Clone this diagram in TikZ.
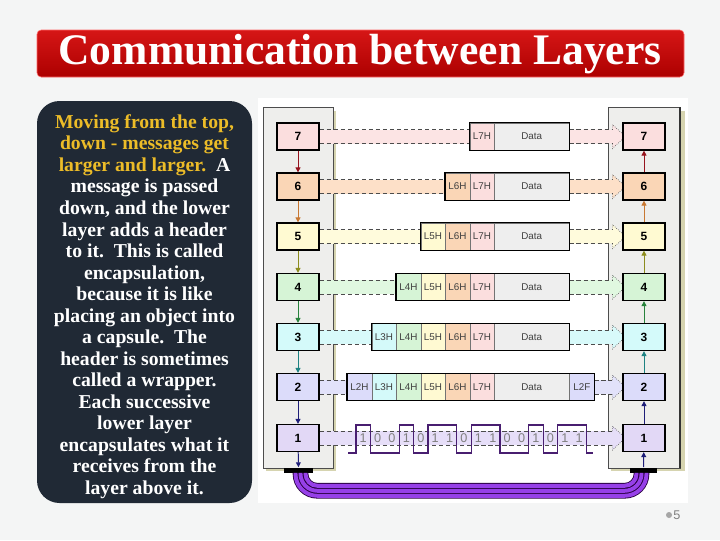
\documentclass[tikz,border=0pt]{standalone}
\usepackage{fontspec}
\setmainfont{Liberation Serif}
\setsansfont{Liberation Sans}
\usepackage{xcolor}
\usetikzlibrary{calc, arrows.meta, positioning}
\pgfdeclarelayer{background}
\pgfsetlayers{background,main}

\definecolor{slidebg}{RGB}{244, 245, 245}
\definecolor{bannertop}{RGB}{214, 22, 22}
\definecolor{bannerbot}{RGB}{172, 0, 0}
\definecolor{textbg}{RGB}{32, 41, 53}
\definecolor{gold}{RGB}{236, 188, 40}
\definecolor{panelgray}{RGB}{238, 238, 236}
\definecolor{panelshadow}{RGB}{214, 212, 176}
\definecolor{datagray}{RGB}{238, 238, 238}
% layer fills
\definecolor{lay7}{RGB}{251, 222, 222}
\definecolor{lay6}{RGB}{250, 214, 182}
\definecolor{lay5}{RGB}{255, 250, 210}
\definecolor{lay4}{RGB}{214, 244, 214}
\definecolor{lay3}{RGB}{212, 250, 250}
\definecolor{lay2}{RGB}{220, 220, 250}
\definecolor{lay1}{RGB}{226, 216, 246}
% band fills
\definecolor{band7}{RGB}{252, 228, 228}
\definecolor{band6}{RGB}{253, 224, 200}
\definecolor{band5}{RGB}{255, 251, 220}
\definecolor{band4}{RGB}{224, 248, 224}
\definecolor{band3}{RGB}{216, 250, 250}
\definecolor{band2}{RGB}{226, 226, 250}
\definecolor{band1}{RGB}{230, 222, 248}
% arrow colours
\definecolor{arr7}{RGB}{150, 20, 30}
\definecolor{arr6}{RGB}{200, 120, 50}
\definecolor{arr5}{RGB}{140, 140, 30}
\definecolor{arr4}{RGB}{40, 130, 60}
\definecolor{arr3}{RGB}{30, 130, 130}
\definecolor{arr2}{RGB}{30, 30, 120}
\definecolor{wave}{RGB}{72, 30, 112}
\definecolor{cable}{RGB}{150, 64, 232}
\definecolor{cabledark}{RGB}{40, 0, 64}

\begin{document}
\begin{tikzpicture}[x=0.025cm, y=-0.025cm, >={Triangle[length=3.5pt, width=3.5pt]},
    layerbox/.style={draw=black, line width=0.9pt, minimum width=1.05cm, minimum height=0.675cm,
        inner sep=0pt, font=\sffamily\bfseries\fontsize{8.5}{10}\selectfont},
    cell/.style={draw=black!55, line width=0.3pt, minimum width=0.6125cm, minimum height=0.675cm,
        inner sep=0pt, font=\sffamily\fontsize{7}{8}\selectfont, text=black!75},
    bandline/.style={densely dashed, black!70, line width=0.5pt},
    headline/.style={densely dotted, black!60, line width=0.5pt},
    bit/.style={font=\sffamily\fontsize{9}{10}\selectfont, text=black!50, inner sep=0pt}]

\useasboundingbox (0,0) rectangle (720,540);

\begin{pgfonlayer}{background}
    % === Fondo de la diapositiva ===
    \fill[slidebg] (0,0) rectangle (720,540);
    \fill[white] (258,98) rectangle (688,503);
    % === Paneles de las pilas ===
    \fill[panelshadow] (266,111) rectangle (336,471);
    \filldraw[fill=panelgray, draw=black!70, line width=0.5pt] (263,107) rectangle (333,468);
    \fill[panelshadow] (611,111) rectangle (685,471);
    \filldraw[fill=panelgray, draw=black!70, line width=0.5pt] (608,107) rectangle (680,468);
    \draw[black!80, line width=1pt] (680,107) -- (680,468);
\end{pgfonlayer}

% === Título ===
\shade[top color=bannertop, bottom color=bannerbot, rounded corners=3pt] (37,30) rectangle (684,77);
\draw[red!60!white, line width=0.4pt, rounded corners=3pt] (37,30) rectangle (684,77);
\node[text=white, font=\bfseries\fontsize{31}{36}\selectfont] (title) at (360,54) {Communication between Layers};

% === Texto lateral ===
\fill[textbg, rounded corners=16pt] (37,101) rectangle (252,503);
\node[text=white, align=center, font=\bfseries\fontsize{14}{15.3}\selectfont] (blurb) at (144.5,306.5) {%
    \textcolor{gold}{Moving from the top,}\\
    \textcolor{gold}{down - messages get}\\
    \textcolor{gold}{larger and larger.}\ \ A\\
    message is passed\\
    down, and the lower\\
    layer adds a header\\
    to it.\ \ This is called\\
    encapsulation,\\
    because it is like\\
    placing an object into\\
    a capsule.\ \ The\\
    header is sometimes\\
    called a wrapper.\\
    Each successive\\
    lower layer\\
    encapsulates what it\\
    receives from the\\
    layer above it.};

% === Capas (pila emisora y receptora) ===
\foreach \k/\y in {7/136.5, 6/186.5, 5/236.5, 4/287, 3/337, 2/387, 1/438} {
    \node[layerbox, fill=lay\k] (L\k) at (298,\y) {\k};
    \node[layerbox, fill=lay\k] (R\k) at (644,\y) {\k};
}

% === Mensajes encapsulados ===
\foreach \k/\y in {7/136.5, 6/186.5, 5/236.5, 4/287, 3/337, 2/387} {
    \foreach \h in {\k,...,7} {
        \node[cell, fill=lay\h, anchor=west] (m\k-\h) at ({494-24.5*(8-\h)},\y) {L\h H};
    }
    \node[cell, fill=datagray, minimum width=1.875cm, anchor=west] (m\k-d) at (494,\y) {Data};
    \draw[line width=0.9pt] (m\k-\k.north west) rectangle (m\k-d.south east);
    \coordinate (e\k) at (m\k-d.east);
}
\node[cell, fill=lay2, anchor=west] (m2-f) at (m2-d.east) {L2F};
\draw[line width=0.9pt] (m2-2.north west) rectangle (m2-f.south east);
\coordinate (e2) at (m2-f.east);
\coordinate (e1) at (L1.east);

% === Bandas punteadas entre capas pares ===
\begin{pgfonlayer}{background}
    \foreach \k in {7,6,5,4,3,2} {
        \fill[band\k] ($(L\k.east)+(0,-7)$) rectangle ($(m\k-\k.west)+(0,7)$);
        \draw[bandline] ($(L\k.east)+(0,-7)$) -- ($(m\k-\k.west)+(0,-7)$);
        \draw[bandline] ($(L\k.east)+(0,7)$) -- ($(m\k-\k.west)+(0,7)$);
    }
    \foreach \k in {7,6,5,4,3,2,1} {
        \fill[band\k] ($(e\k)+(0,-7)$) -- ($(R\k.west)+(-10,-7)$) -- ($(R\k.west)+(-10,-12)$)
            -- ($(R\k.west)+(3,0)$) -- ($(R\k.west)+(-10,12)$) -- ($(R\k.west)+(-10,7)$)
            -- ($(e\k)+(0,7)$) -- cycle;
        \draw[bandline] ($(e\k)+(0,-7)$) -- ($(R\k.west)+(-10,-7)$);
        \draw[bandline] ($(e\k)+(0,7)$) -- ($(R\k.west)+(-10,7)$);
        \draw[headline] ($(R\k.west)+(-10,-7)$) -- ($(R\k.west)+(-10,-12)$) -- ($(R\k.west)+(3,0)$)
            -- ($(R\k.west)+(-10,12)$) -- ($(R\k.west)+(-10,7)$);
    }
\end{pgfonlayer}

% === Señal física (capa 1) ===
\draw[wave, line width=0.9pt]
    (348,453) -- (356,453) -- (356,425) -- (370.4,425) -- (370.4,453) -- (399.2,453)
    -- (399.2,425) -- (413.6,425) -- (413.6,453) -- (428,453) -- (428,425) -- (456.8,425)
    -- (456.8,453) -- (471.2,453) -- (471.2,425) -- (500,425) -- (500,453) -- (528.8,453)
    -- (528.8,425) -- (543.2,425) -- (543.2,453) -- (557.6,453) -- (557.6,425) -- (586.4,425)
    -- (586.4,453) -- (593,453);
\foreach \b [count=\i from 0] in {1,0,0,1,0,1,1,0,1,1,0,0,1,0,1,1} {
    \node[bit] (b\i) at ({363.2+14.4*\i},438) {\b};
}

% === Flechas entre capas ===
\foreach \a/\b/\c in {7/6/arr7, 6/5/arr6, 5/4/arr5, 4/3/arr4, 3/2/arr3, 2/1/arr2} {
    \draw[->, \c, line width=0.7pt] (L\a) -- (L\b);
    \draw[->, \c, line width=0.7pt] (R\b) -- (R\a);
}

% === Medio físico ===
\node[fill=black, minimum width=0.725cm, minimum height=0.125cm, inner sep=0pt] (LB) at (298.5,470) {};
\node[fill=black, minimum width=0.675cm, minimum height=0.125cm, inner sep=0pt] (RB) at (643.5,470) {};
\draw[->, arr2, line width=0.7pt] (L1) -- (LB);
\draw[->, arr2, line width=0.7pt] (RB) -- (R1);

\foreach \o in {5,0,-5} {
    \pgfmathsetmacro{\rad}{12+0.7*\o}
    \draw[cabledark, line width=4pt, rounded corners=\rad pt]
        ($(LB.south)+(2-\o,0)$) |- ($(RB.south)+(-2+\o,18+\o)$) -- ($(RB.south)+(-2+\o,0)$);
}
\foreach \o in {5,0,-5} {
    \pgfmathsetmacro{\rad}{12+0.7*\o}
    \draw[cable, line width=2.8pt, rounded corners=\rad pt]
        ($(LB.south)+(2-\o,0)$) |- ($(RB.south)+(-2+\o,18+\o)$) -- ($(RB.south)+(-2+\o,0)$);
}

% === Número de página ===
\fill[gray!70] (669,515) circle (3);
\node[text=gray, font=\sffamily\fontsize{9}{10}\selectfont, anchor=west, inner sep=0pt] (pgnum) at (673,515) {5};

\end{tikzpicture}
\end{document}
